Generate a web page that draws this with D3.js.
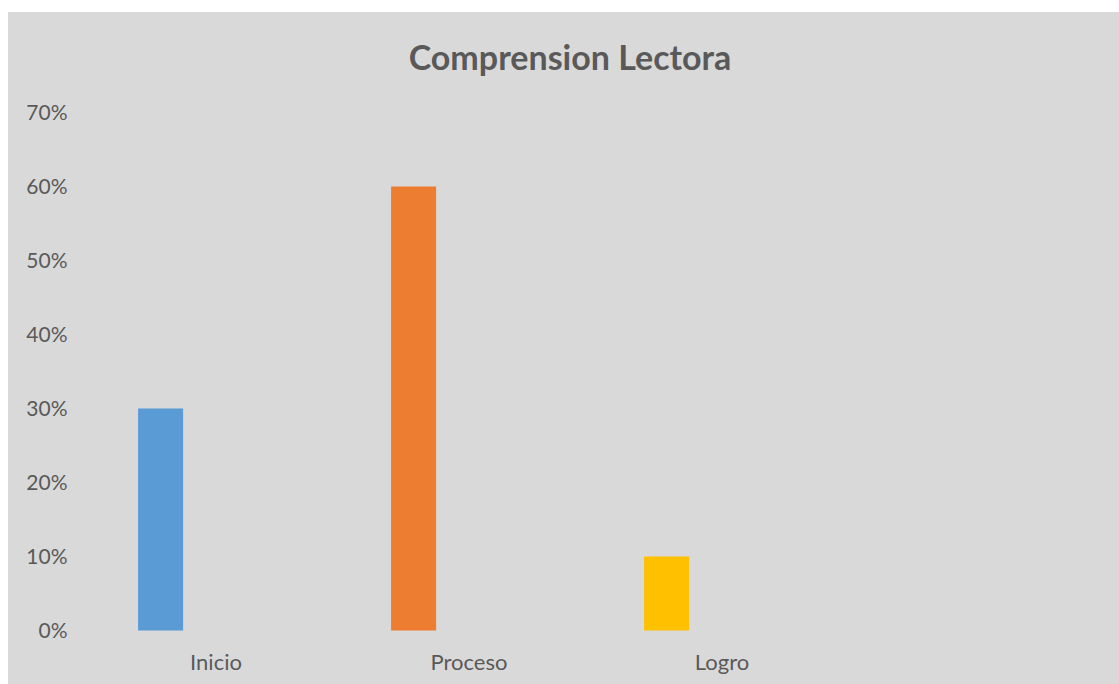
<!DOCTYPE html>
<html>
<head>
<meta charset="utf-8">
<script src="https://cdn.jsdelivr.net/npm/d3@7"></script>
<style>
  body { margin: 0; background: #fff; }
  svg { display: block; font-family: Lato, "Open Sans", sans-serif; }
</style>
</head>
<body>
<svg id="chart" width="1119" height="684"></svg>
<script>
// chart data
const categories = ["Inicio", "Proceso", "Logro", ""];
const values = [0.30, 0.60, 0.10];
const colors = ["#5b9bd5", "#ed7d31", "#ffc000"];
const yTicks = [0, 0.1, 0.2, 0.3, 0.4, 0.5, 0.6, 0.7];
const title = "Comprension Lectora";

const svg = d3.select("#chart");
const W = 1119, H = 684;

// chart area background
svg.append("rect")
  .attr("x", 8).attr("y", 12)
  .attr("width", W - 8).attr("height", H - 12)
  .attr("fill", "#d9d9d9");

// plot area
const plot = { left: 89.5, right: 1101.5, top: 112.5, bottom: 630.5 };

const x = d3.scaleBand().domain(categories).range([plot.left, plot.right]);
const y = d3.scaleLinear().domain([0, 0.7]).range([plot.bottom, plot.top]);

// title
svg.append("text")
  .attr("x", 570)
  .attr("y", 70)
  .attr("text-anchor", "middle")
  .attr("fill", "#595959")
  .style("font-size", "34px")
  .style("font-weight", "bold")
  .text(title);

// y axis labels
const yAxis = svg.append("g")
  .attr("transform", `translate(${plot.left - 22},0)`)
  .call(d3.axisLeft(y).tickValues(yTicks).tickFormat(d3.format(".0%")).tickSize(0));
yAxis.select(".domain").remove();
yAxis.selectAll("text")
  .attr("fill", "#595959")
  .attr("x", 0)
  .style("font-size", "21px")
  .style("font-family", "Lato, 'Open Sans', sans-serif");

// x axis labels
const xAxis = svg.append("g")
  .attr("transform", `translate(0,${plot.bottom})`)
  .call(d3.axisBottom(x).tickSize(0));
xAxis.select(".domain").remove();
xAxis.selectAll("text")
  .attr("fill", "#595959")
  .attr("y", 39.5)
  .attr("dy", null)
  .style("font-size", "22px")
  .style("font-family", "Lato, 'Open Sans', sans-serif");

// bars, each sitting on the left part of its category band
const barOffset = x.bandwidth() * 0.192;
const barWidth = x.bandwidth() * 0.178;
svg.selectAll("rect.bar")
  .data(values)
  .join("rect")
  .attr("class", "bar")
  .attr("x", (d, i) => x(categories[i]) + barOffset)
  .attr("y", d => y(d))
  .attr("width", barWidth)
  .attr("height", d => y(0) - y(d))
  .attr("fill", (d, i) => colors[i]);
</script>
</body>
</html>
